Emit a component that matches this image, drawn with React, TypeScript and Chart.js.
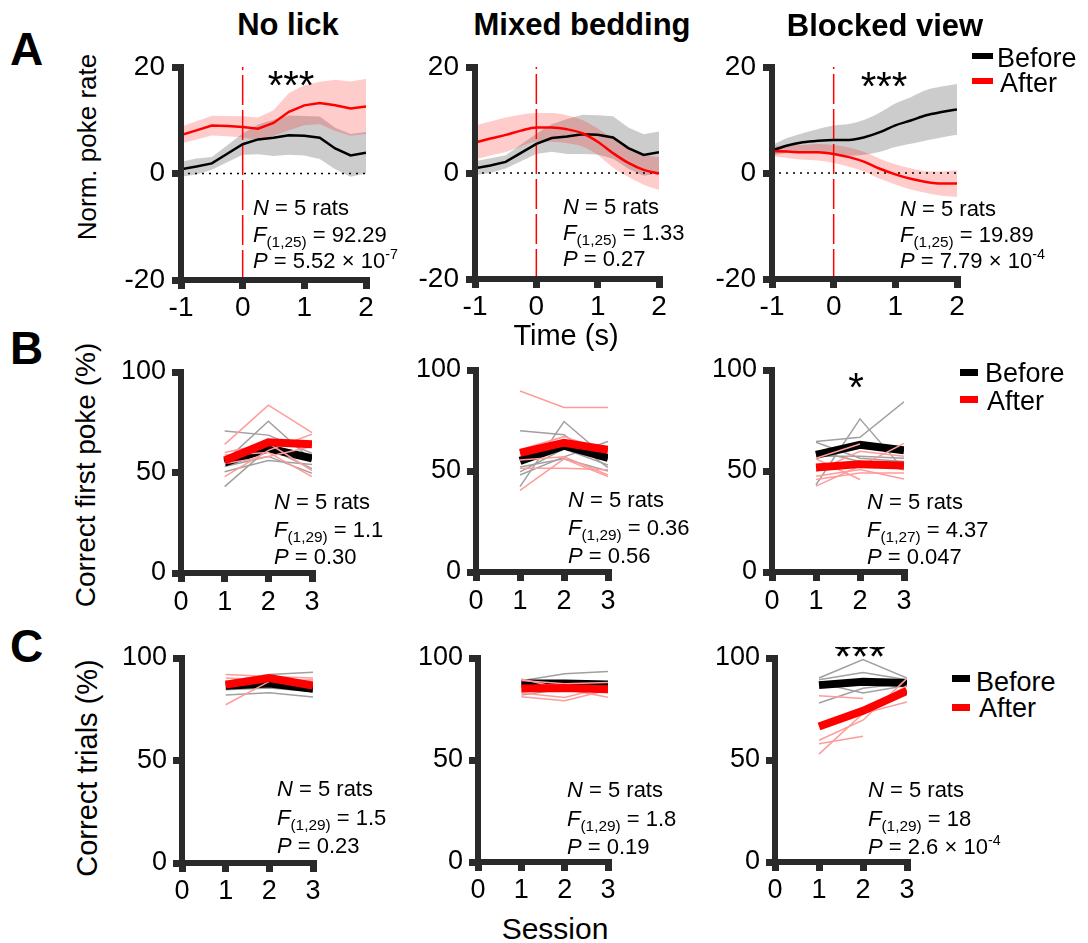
import React, { useEffect, useRef } from 'react';
import { Chart, registerables } from 'chart.js';

Chart.register(...registerables);

const FONT = "'Liberation Sans', Arial, Helvetica, sans-serif";
const AXIS = '#2a2a2a';
const RED = '#ff0000';
const GRAY = '#a0a0a0';
const PINK = '#ff9b9b';

// ---------------- Text ----------------
const PANEL_LETTERS = ['A', 'B', 'C'];
const TITLES = ['No lick', 'Mixed bedding', 'Blocked view'];
const Y_TITLES = ['Norm. poke rate', 'Correct first poke (%)', 'Correct trials (%)'];
const X_TITLES = ['Time (s)', 'Session'];
const LEGEND_LABELS = ['Before', 'After'];
const STAT_N = 'N';
const STAT_N_TEXT = ' = 5 rats';
const STAT_DF = ['(1,25)', '(1,25)', '(1,25)', '(1,29)', '(1,29)', '(1,27)', '(1,29)', '(1,29)', '(1,29)'];
const STAT_F = ['92.29', '1.33', '19.89', '1.1', '0.36', '4.37', '1.5', '1.8', '18'];
const STAT_P = ['5.52 × 10', '0.27', '7.79 × 10', '0.30', '0.56', '0.047', '0.23', '0.19', '2.6 × 10'];
const STAT_P_EXP = ['-7', '', '-4', '', '', '', '', '', '-4'];
const SIG_MARKS = ['***', '', '***', '', '', '*', '', '', '***'];

// ---------------- Row A: time courses ----------------
const TIME = [-1, -0.75, -0.5, -0.25, 0, 0.25, 0.5, 0.75, 1, 1.25, 1.5, 1.75, 2];
const TIME_TICKS = { min: -1, max: 2, step: 1 };
const RATE_TICKS = { min: -20, max: 20, step: 20 };

const NOLICK_BEFORE_MEAN = [0.8, 1.3, 1.9, 3.7, 5.5, 6.4, 6.7, 7.2, 7.1, 6.7, 4.7, 3.4, 3.9];
const NOLICK_BEFORE_SEM = [1.4, 1.5, 1.2, 1.6, 2.0, 2.8, 3.4, 3.7, 3.7, 4.0, 3.9, 4.0, 3.9];
const NOLICK_AFTER_MEAN = [7.2, 8.1, 9.0, 8.9, 8.75, 8.4, 9.5, 11.6, 12.8, 13.25, 12.8, 12.2, 12.6];
const NOLICK_AFTER_SEM = [1.6, 1.7, 1.85, 1.9, 2.0, 2.1, 2.4, 3.5, 3.75, 4.0, 4.8, 5.1, 5.2];

const MIXED_BEFORE_MEAN = [0.9, 1.4, 2.1, 3.8, 5.5, 6.6, 6.9, 7.3, 7.2, 6.7, 4.7, 3.4, 3.9];
const MIXED_BEFORE_SEM = [1.3, 1.4, 1.25, 1.6, 1.9, 2.6, 3.3, 3.7, 3.7, 4.0, 3.9, 3.9, 3.95];
const MIXED_AFTER_MEAN = [5.75, 6.5, 7.2, 8.0, 8.6, 8.6, 8.25, 7.5, 5.9, 3.75, 1.9, 0.6, -0.1];
const MIXED_AFTER_SEM = [3.2, 3.2, 3.25, 3.0, 2.7, 2.7, 2.65, 2.5, 2.5, 2.7, 2.65, 2.8, 3.1];

const BLOCKED_BEFORE_MEAN = [4.25, 5.2, 5.8, 6.1, 6.25, 6.25, 6.75, 7.7, 9.0, 9.9, 10.9, 11.5, 12.0];
const BLOCKED_BEFORE_SEM = [1.0, 1.4, 1.7, 2.2, 2.7, 3.0, 3.3, 3.7, 4.1, 4.4, 4.75, 4.8, 4.8];
const BLOCKED_AFTER_MEAN = [4.1, 4.05, 3.9, 3.9, 3.6, 3.0, 2.1, 0.8, -0.25, -1.1, -1.7, -2.0, -2.0];
const BLOCKED_AFTER_SEM = [0.95, 1.2, 1.4, 1.55, 1.7, 1.8, 1.85, 1.9, 1.9, 2.0, 2.05, 2.3, 2.5];

// ---------------- Rows B, C: sessions ----------------
const SESSIONS = [1, 2, 3];
const SESSION_TICKS = { min: 0, max: 3, step: 1 };
const PCT_TICKS = { min: 0, max: 100, step: 50 };

const POKE_NOLICK_BEFORE_RATS = [[70.7, 68.6, 59.5], [43, 62, 52], [55.4, 75.5, 56], [53, 58, 49.6], [50.4, 56, 54]];
const POKE_NOLICK_AFTER_RATS = [[64, 83.5, 69.8], [58.7, 60, 48], [48, 61, 69], [60, 64.5, 51], [54.5, 58, 63]];
const POKE_NOLICK_BEFORE_MEAN = [55, 62, 57];
const POKE_NOLICK_AFTER_MEAN = [56, 65, 64];

const POKE_MIXED_BEFORE_RATS = [[69.9, 67.9, 51.7], [42.3, 74.5, 55.8], [48, 57, 64.6], [52, 56, 50], [49.6, 61, 53]];
const POKE_MIXED_AFTER_RATS = [[89.6, 81.4, 81.4], [40.4, 56, 47.3], [51.4, 51.4, 50.6], [60.5, 67, 59.6], [55.5, 57, 48]];
const POKE_MIXED_BEFORE_MEAN = [55, 62.5, 56.5];
const POKE_MIXED_AFTER_MEAN = [59, 64, 60.5];

const POKE_BLOCKED_BEFORE_RATS = [[64.6, 66.7, 84.3], [43.2, 75.8, 50.6], [64.2, 56.3, 54.7], [57.3, 57.3, 56.3], [59.8, 54.7, 50.6]];
const POKE_BLOCKED_AFTER_RATS = [[56.3, 63.4, null], [42.5, 52.5, 63.6], [56, 45.8, null], [47.4, 50.7, 46], [49.9, 59.8, 57.3], [45.8, 49, 49]];
const POKE_BLOCKED_BEFORE_MEAN = [58, 63, 60.2];
const POKE_BLOCKED_AFTER_MEAN = [51.7, 53.4, 52.7];

const TRIALS_NOLICK_BEFORE_RATS = [[82, 83, 81], [88.6, 91.9, 93], [84.5, 85.4, 83.7], [88, 88.6, 86.2]];
const TRIALS_NOLICK_AFTER_RATS = [[77.2, 88.6, 89.4], [91.9, 91, 90.2], [90.2, 89.4, 88.6], [88.6, 91, 87]];
const TRIALS_NOLICK_BEFORE_MEAN = [86.5, 87.5, 85];
const TRIALS_NOLICK_AFTER_MEAN = [87, 90.2, 86.5];

const TRIALS_MIXED_BEFORE_RATS = [[88.9, 92.3, 93.4], [81.8, 84.8, 85], [88, 87.5, 87.5]];
const TRIALS_MIXED_AFTER_RATS = [[89.7, 84.8, 80.7], [89, 87.4, 88], [81, 79, 84.3], [82.8, 80.7, 86], [86, 87.2, 83]];
const TRIALS_MIXED_BEFORE_MEAN = [87.5, 87.5, 87];
const TRIALS_MIXED_AFTER_MEAN = [85, 85.3, 84.7];

const TRIALS_BLOCKED_BEFORE_RATS = [[90.2, 99.2, 90.2], [89.3, 92.9, 89.3], [77.9, 85.2, 87.7], [87.7, 82.8, 86.5]];
const TRIALS_BLOCKED_AFTER_RATS = [[81.5, 80.2, null], [58, 61.6, null], [52.9, 72.8, 78.5], [59.7, 69.5, 90], [68, 74.4, 86.4]];
const TRIALS_BLOCKED_BEFORE_MEAN = [86.7, 88.4, 87.7];
const TRIALS_BLOCKED_AFTER_MEAN = [66.4, 74.1, 83.9];

// ---------------- Layout (chart areas in page px) ----------------
type Area = { left: number; right: number; top: number; bottom: number };
const AREAS: Area[] = [
  { left: 181, right: 366, top: 67, bottom: 280 },
  { left: 475, right: 659, top: 67, bottom: 279 },
  { left: 772, right: 957, top: 67, bottom: 279 },
  { left: 181, right: 312, top: 372, bottom: 573 },
  { left: 476, right: 608, top: 370, bottom: 572 },
  { left: 772, right: 904, top: 370, bottom: 572 },
  { left: 182, right: 313, top: 658, bottom: 863 },
  { left: 478, right: 608, top: 658, bottom: 862 },
  { left: 775, right: 907, top: 658, bottom: 862 },
];
const YW = 75;
const XH = 50;
const PT = 25;
const PR = 25;

function axes(xt: any, yt: any, fontSize: number, xPad: number, yPad: number) {
  const tickFont = { family: FONT, size: fontSize };
  const grid = { display: true, drawOnChartArea: false, drawTicks: true, tickLength: 9, lineWidth: 7, color: AXIS };
  const border = { display: true, width: 6, color: AXIS, z: 1 };
  return {
    x: {
      type: 'linear', position: 'bottom', min: xt.min, max: xt.max,
      ticks: { stepSize: xt.step, font: tickFont, color: '#000', padding: xPad, maxRotation: 0, autoSkip: false },
      grid, border,
      afterFit: (s: any) => { s.height = XH; },
    },
    y: {
      type: 'linear', position: 'left', min: yt.min, max: yt.max,
      ticks: { stepSize: yt.step, font: tickFont, color: '#000', padding: yPad, autoSkip: false },
      grid, border,
      afterFit: (s: any) => { s.width = YW; },
    },
  };
}

function baseConfig(datasets: any[], scales: any) {
  return {
    type: 'line',
    data: { datasets: datasets.map((d, i) => ({ pointRadius: 0, pointHoverRadius: 0, fill: false, ...d, order: -i })) },
    options: {
      responsive: false,
      animation: false,
      devicePixelRatio: 1,
      events: [],
      layout: { padding: { left: 0, top: PT, right: PR, bottom: 0 } },
      plugins: {
        legend: { display: false },
        tooltip: { enabled: false },
        filler: { drawTime: 'beforeDatasetsDraw', propagate: false },
      },
      scales,
    },
  };
}

function timeConfig(bm: number[], bs: number[], am: number[], as: number[], smoothB: boolean, smoothA: boolean) {
  const pts = (arr: number[]) => TIME.map((t, i) => ({ x: t, y: arr[i] }));
  const up = (m: number[], s: number[]) => m.map((v, i) => v + s[i]);
  const lo = (m: number[], s: number[]) => m.map((v, i) => v - s[i]);
  const cb = smoothB ? { cubicInterpolationMode: 'monotone' } : {};
  const ca = smoothA ? { cubicInterpolationMode: 'monotone' } : {};
  const t0 = TIME[0];
  const t1 = TIME[TIME.length - 1];
  const datasets = [
    { data: pts(up(bm, bs)), borderWidth: 0, ...cb },
    { data: pts(lo(bm, bs)), borderWidth: 0, fill: '-1', backgroundColor: 'rgba(0,0,0,0.2)', ...cb },
    { data: pts(up(am, as)), borderWidth: 0, ...ca },
    { data: pts(lo(am, as)), borderWidth: 0, fill: '-1', backgroundColor: 'rgba(255,0,0,0.2)', ...ca },
    { data: [{ x: t0, y: 0 }, { x: t1, y: 0 }], borderColor: '#000', borderWidth: 1.5, borderDash: [2, 5] },
    { data: [{ x: 0, y: RATE_TICKS.min }, { x: 0, y: RATE_TICKS.max }], borderColor: RED, borderWidth: 1.5, borderDash: [30, 5] },
    { data: pts(bm), borderColor: '#000', borderWidth: 2.5, ...cb },
    { data: pts(am), borderColor: RED, borderWidth: 2.5, ...ca },
  ];
  return baseConfig(datasets, axes(TIME_TICKS, RATE_TICKS, 28, 2, 7));
}

function sessionConfig(br: (number | null)[][], ar: (number | null)[][], bm: number[], am: number[], xPad: number) {
  const thin = (r: (number | null)[], color: string) => ({
    data: SESSIONS.map((s, i) => ({ x: s, y: r[i] })).filter((p) => p.y !== null),
    borderColor: color, borderWidth: 1.5,
  });
  const thick = (m: number[], color: string) => ({
    data: SESSIONS.map((s, i) => ({ x: s, y: m[i] })),
    borderColor: color, borderWidth: 8,
  });
  const datasets = [
    ...br.map((r) => thin(r, GRAY)),
    thick(bm, '#000'),
    ...ar.map((r) => thin(r, PINK)),
    thick(am, RED),
  ];
  return baseConfig(datasets, axes(SESSION_TICKS, PCT_TICKS, 27, xPad, 6));
}

const BUILDERS: (() => any)[] = [
  () => timeConfig(NOLICK_BEFORE_MEAN, NOLICK_BEFORE_SEM, NOLICK_AFTER_MEAN, NOLICK_AFTER_SEM, false, false),
  () => timeConfig(MIXED_BEFORE_MEAN, MIXED_BEFORE_SEM, MIXED_AFTER_MEAN, MIXED_AFTER_SEM, false, true),
  () => timeConfig(BLOCKED_BEFORE_MEAN, BLOCKED_BEFORE_SEM, BLOCKED_AFTER_MEAN, BLOCKED_AFTER_SEM, true, true),
  () => sessionConfig(POKE_NOLICK_BEFORE_RATS, POKE_NOLICK_AFTER_RATS, POKE_NOLICK_BEFORE_MEAN, POKE_NOLICK_AFTER_MEAN, 4),
  () => sessionConfig(POKE_MIXED_BEFORE_RATS, POKE_MIXED_AFTER_RATS, POKE_MIXED_BEFORE_MEAN, POKE_MIXED_AFTER_MEAN, 4),
  () => sessionConfig(POKE_BLOCKED_BEFORE_RATS, POKE_BLOCKED_AFTER_RATS, POKE_BLOCKED_BEFORE_MEAN, POKE_BLOCKED_AFTER_MEAN, 4),
  () => sessionConfig(TRIALS_NOLICK_BEFORE_RATS, TRIALS_NOLICK_AFTER_RATS, TRIALS_NOLICK_BEFORE_MEAN, TRIALS_NOLICK_AFTER_MEAN, 3),
  () => sessionConfig(TRIALS_MIXED_BEFORE_RATS, TRIALS_MIXED_AFTER_RATS, TRIALS_MIXED_BEFORE_MEAN, TRIALS_MIXED_AFTER_MEAN, 3),
  () => sessionConfig(TRIALS_BLOCKED_BEFORE_RATS, TRIALS_BLOCKED_AFTER_RATS, TRIALS_BLOCKED_BEFORE_MEAN, TRIALS_BLOCKED_AFTER_MEAN, 3),
];

function ChartPanel({ area, build }: { area: Area; build: () => any }) {
  const ref = useRef<HTMLCanvasElement | null>(null);
  const W = YW + (area.right - area.left) + PR;
  const H = PT + (area.bottom - area.top) + XH;
  useEffect(() => {
    const chart = new Chart(ref.current as HTMLCanvasElement, build());
    return () => chart.destroy();
  }, []);
  return (
    <canvas
      ref={ref}
      width={W}
      height={H}
      style={{ position: 'absolute', left: area.left - YW, top: area.top - PT, width: W, height: H }}
    />
  );
}

// ---------------- Text helpers ----------------
function Txt({ x, y, size, bold = false, anchor = 'start', children }: any) {
  const tx = anchor === 'middle' ? 'translateX(-50%)' : anchor === 'end' ? 'translateX(-100%)' : undefined;
  return (
    <div
      style={{
        position: 'absolute', left: x, top: y - 0.8465 * size, fontSize: size, lineHeight: `${size}px`,
        fontFamily: FONT, fontWeight: bold ? 700 : 400, whiteSpace: 'nowrap', color: '#000', transform: tx,
      }}
    >
      {children}
    </div>
  );
}

function VTxt({ cx, cy, size, children }: any) {
  return (
    <div
      style={{
        position: 'absolute', left: cx, top: cy, fontSize: size, lineHeight: `${size}px`, fontFamily: FONT,
        whiteSpace: 'nowrap', color: '#000', transform: 'translate(-50%, -50%) rotate(-90deg)',
      }}
    >
      {children}
    </div>
  );
}

const STAT_POS = [
  { x: 253, y: 216, gap: 26.5 },
  { x: 563, y: 215, gap: 26 },
  { x: 900, y: 217, gap: 26 },
  { x: 274, y: 510, gap: 27.5 },
  { x: 568, y: 508, gap: 28 },
  { x: 867, y: 510, gap: 27.5 },
  { x: 277, y: 797, gap: 28.5 },
  { x: 567, y: 798, gap: 28.5 },
  { x: 868, y: 798, gap: 28.5 },
];

function Stats({ i }: { i: number }) {
  const p = STAT_POS[i];
  const S = 22;
  return (
    <>
      <Txt x={p.x} y={p.y} size={S}><i>{STAT_N}</i>{STAT_N_TEXT}</Txt>
      <Txt x={p.x} y={p.y + p.gap} size={S}>
        <i>F</i>
        <span style={{ fontSize: '0.7em', verticalAlign: '-0.3em', lineHeight: 0 }}>{STAT_DF[i]}</span>
        {' = ' + STAT_F[i]}
      </Txt>
      <Txt x={p.x} y={p.y + 2 * p.gap} size={S}>
        <i>P</i>
        {' = ' + STAT_P[i]}
        {STAT_P_EXP[i] ? (
          <span style={{ fontSize: '0.65em', verticalAlign: '0.6em', lineHeight: 0 }}>{STAT_P_EXP[i]}</span>
        ) : null}
      </Txt>
    </>
  );
}

const LEGENDS = [
  { x0: 972, x1: 993, yB: 56, yA: 81, th: 6, tB: 997, tA: 1000, bB: 68, bA: 93 },
  { x0: 960, x1: 978, yB: 372, yA: 399, th: 7, tB: 985, tA: 987, bB: 383, bA: 411 },
  { x0: 952, x1: 970, yB: 678, yA: 707, th: 7, tB: 976, tA: 979, bB: 692, bA: 718 },
];

function Legend({ l }: any) {
  const sw = (y: number, c: string) => (
    <div style={{ position: 'absolute', left: l.x0, top: y - l.th / 2, width: l.x1 - l.x0, height: l.th, background: c }} />
  );
  return (
    <>
      {sw(l.yB, '#000')}
      {sw(l.yA, RED)}
      <Txt x={l.tB} y={l.bB} size={27}>{LEGEND_LABELS[0]}</Txt>
      <Txt x={l.tA} y={l.bA} size={27}>{LEGEND_LABELS[1]}</Txt>
    </>
  );
}

export default function App() {
  return (
    <div
      style={{
        position: 'absolute', left: 0, top: 0, width: 1088, height: 943, background: '#fff',
        overflow: 'hidden', fontFamily: FONT,
      }}
    >
      {AREAS.map((a, i) => (
        <ChartPanel key={i} area={a} build={BUILDERS[i]} />
      ))}

      {/* panel letters */}
      <Txt x={10} y={65} size={46} bold>{PANEL_LETTERS[0]}</Txt>
      <Txt x={10} y={364} size={46} bold>{PANEL_LETTERS[1]}</Txt>
      <Txt x={10} y={662} size={46} bold>{PANEL_LETTERS[2]}</Txt>

      {/* column titles */}
      <Txt x={288} y={35} size={31} bold anchor="middle">{TITLES[0]}</Txt>
      <Txt x={582} y={35} size={31} bold anchor="middle">{TITLES[1]}</Txt>
      <Txt x={885} y={36} size={31} bold anchor="middle">{TITLES[2]}</Txt>

      {/* y axis titles */}
      <VTxt cx={87} cy={147} size={26}>{Y_TITLES[0]}</VTxt>
      <VTxt cx={86} cy={475} size={28}>{Y_TITLES[1]}</VTxt>
      <VTxt cx={87} cy={768} size={29}>{Y_TITLES[2]}</VTxt>

      {/* x axis titles */}
      <Txt x={566} y={346} size={29} anchor="middle">{X_TITLES[0]}</Txt>
      <Txt x={555} y={939} size={30} anchor="middle">{X_TITLES[1]}</Txt>

      {/* stats */}
      {STAT_POS.map((_, i) => (
        <Stats key={i} i={i} />
      ))}

      {/* significance marks */}
      <Txt x={291} y={99} size={40} anchor="middle">{SIG_MARKS[0]}</Txt>
      <Txt x={884} y={100} size={40} anchor="middle">{SIG_MARKS[2]}</Txt>
      <Txt x={856} y={401} size={40} anchor="middle">{SIG_MARKS[5]}</Txt>
      <div style={{ position: 'absolute', left: 0, top: 647, width: 1088, height: 20, overflow: 'hidden' }}>
        <Txt x={860} y={672 - 647} size={44} anchor="middle">{SIG_MARKS[8]}</Txt>
      </div>

      {/* legends */}
      {LEGENDS.map((l, i) => (
        <Legend key={i} l={l} />
      ))}
    </div>
  );
}
